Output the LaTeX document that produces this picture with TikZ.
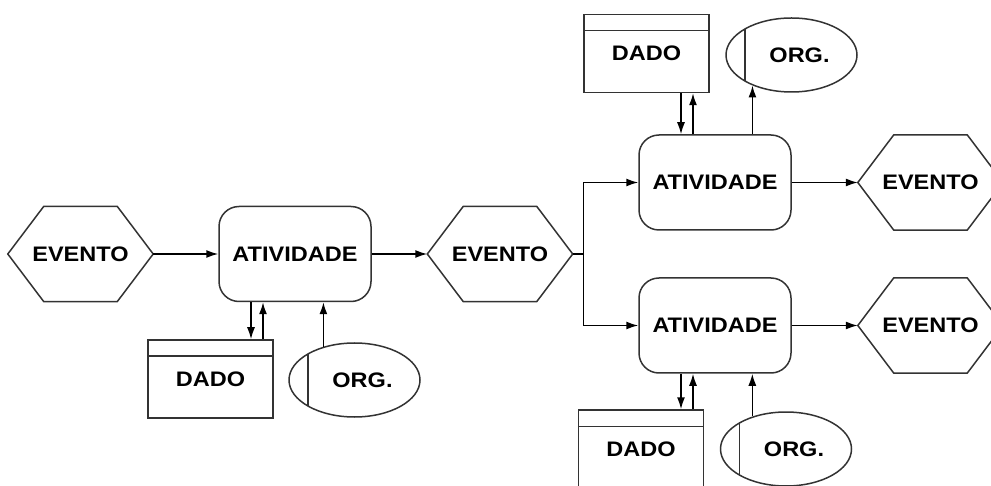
\documentclass[tikz,border=0pt]{standalone}
\usepackage{fontspec}
\setmainfont{Liberation Sans}
\usetikzlibrary{arrows.meta,calc,shapes.geometric}

% wide bold label text
\newcommand\wlabel[1]{\scalebox{1.12}[1]{#1}}

\tikzset{
  shapeline/.style={draw=black!80, line width=1.5pt},
  lbl/.style={font=\fontsize{21}{24}\selectfont\bfseries, text=black},
  evento/.style={lbl, rectangle, minimum width=145pt, minimum height=95pt, inner sep=0pt},
  atividade/.style={lbl, shapeline, rectangle, rounded corners=20pt, minimum width=152pt, minimum height=95pt, inner sep=0pt},
  dado/.style={lbl, shapeline, rectangle, minimum width=125pt, minimum height=78pt, inner sep=0pt},
  org/.style={lbl, shapeline, ellipse, minimum width=131pt, minimum height=74pt, inner sep=0pt,
    path picture={\draw[line width=1.8pt]
      ([xshift=19pt]path picture bounding box.north west) --
      ([xshift=19pt]path picture bounding box.south west);}},
  flow/.style={draw=black, line width=1.5pt, -{Latex[length=12pt,width=8pt]}}
}

% hexagonal outline around an event node
\newcommand\hexframe[1]{%
  \draw[shapeline] (#1.west) -- ($(#1.north west)+(36,0)$) -- ($(#1.north east)+(-36,0)$)
    -- (#1.east) -- ($(#1.south east)+(-36,0)$) -- ($(#1.south west)+(36,0)$) -- cycle;}
% header line of a data store
\newcommand\dadoline[1]{%
  \draw[shapeline] ($(#1.north west)+(0,17)$) -- ($(#1.north east)+(0,17)$);}

\begin{document}
\begin{tikzpicture}[x=1pt, y=-1pt]
\useasboundingbox (0,0) rectangle (991,486);

% events
\node[evento] (e1) at (80.5,254) {\wlabel{EVENTO}};
\node[evento] (e2) at (500,254) {\wlabel{EVENTO}};
\node[evento] (e3) at (930.5,182.5) {\wlabel{EVENTO}};
\node[evento] (e4) at (930.5,325.5) {\wlabel{EVENTO}};
\hexframe{e1}\hexframe{e2}\hexframe{e3}\hexframe{e4}

% activities
\node[atividade] (a1) at (295,254) {\wlabel{ATIVIDADE}};
\node[atividade] (a2) at (715,182.5) {\wlabel{ATIVIDADE}};
\node[atividade] (a3) at (715,325.5) {\wlabel{ATIVIDADE}};

% data stores
\node[dado] (d1) at (210.5,379) {\wlabel{DADO}};
\node[dado] (d2) at (646.5,53.5) {\wlabel{DADO}};
\node[dado] (d3) at (641,449) {\wlabel{DADO}};
\dadoline{d1}\dadoline{d2}\dadoline{d3}

% organisational units
\node[org] (o1) at (354.5,380) {\hspace*{16pt}\wlabel{ORG.}};
\node[org] (o2) at (791.5,55) {\hspace*{16pt}\wlabel{ORG.}};
\node[org] (o3) at (786,449) {\hspace*{16pt}\wlabel{ORG.}};

% main flow
\draw[flow] (e1.east) -- (a1.west);
\draw[flow] (a1.east) -- (e2.west);
\coordinate (split) at ($(e2.east)+(11,0)$);
\draw[flow] (e2.east) -- (split) |- (a2.west);
\draw[flow] (split) |- (a3.west);
\draw[flow] (a2.east) -- (e3.west);
\draw[flow] (a3.east) -- (e4.west);

% data exchange
\draw[flow] ([xshift=-44pt]a1.south) -- ([xshift=-44pt]a1.south |- d1.north);
\draw[flow] ([xshift=-32pt]a1.south |- d1.north) -- ([xshift=-32pt]a1.south);
\draw[flow] ([xshift=-34pt]a2.north |- d2.south) -- ([xshift=-34pt]a2.north);
\draw[flow] ([xshift=-22pt]a2.north) -- ([xshift=-22pt]a2.north |- d2.south);
\draw[flow] ([xshift=-34pt]a3.south) -- ([xshift=-34pt]a3.south |- d3.north);
\draw[flow] ([xshift=-22pt]a3.south |- d3.north) -- ([xshift=-22pt]a3.south);

% organisation links
\draw[flow] (o1.133) -- (o1.133 |- a1.south);
\draw[flow] (o2.218 |- a2.north) -- (o2.218);
\draw[flow] (o3.136) -- (o3.136 |- a3.south);
\end{tikzpicture}
\end{document}
